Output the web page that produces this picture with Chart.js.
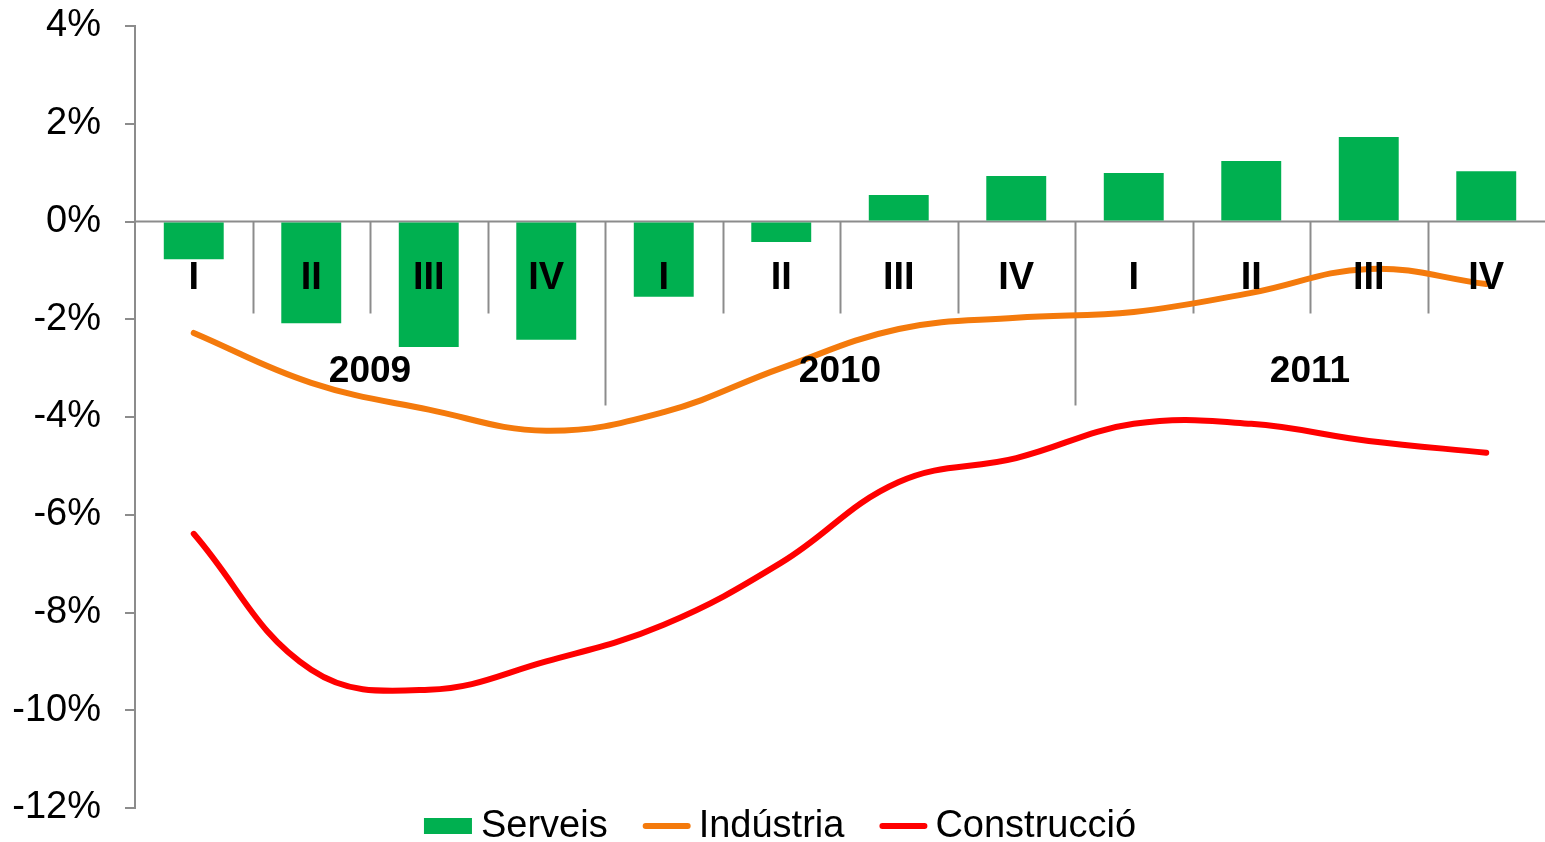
<!DOCTYPE html>
<html>
<head>
<meta charset="utf-8">
<script src="https://cdn.jsdelivr.net/npm/chart.js@4"></script>
<style>
  html, body { margin: 0; padding: 0; background: #fff; }
  #wrap { width: 1545px; height: 842px; }
</style>
</head>
<body>
<div id="wrap"><canvas id="chart"></canvas></div>
<script>
// Quarters and years on the x axis
const quarters = ['I', 'II', 'III', 'IV', 'I', 'II', 'III', 'IV', 'I', 'II', 'III', 'IV'];
const years = ['2009', '2010', '2011'];

// Series (% change)
const serveis = [-0.77, -2.08, -2.57, -2.42, -1.54, -0.42, 0.54, 0.93, 0.99, 1.24, 1.73, 1.03];
const industria = [-2.28, -3.3, -3.85, -4.28, -3.9, -3.0, -2.2, -1.97, -1.85, -1.46, -0.97, -1.28];
const construccio = [-6.39, -9.17, -9.58, -9.0, -8.25, -6.98, -5.33, -4.84, -4.14, -4.14, -4.49, -4.73];

const colors = {
    green: '#00B050',
    orange: '#F47A0C',
    red: '#FF0000',
    axis: '#8C8C8C',
    text: '#000000'
};

const FONT = '"Liberation Sans", Arial, sans-serif';

// Draws the zero axis, category separators, quarter/year labels and legend
const axisPlugin = {
    id: 'quarterAxis',
    beforeDatasetsDraw(chart) {
        const ctx = chart.ctx;
        const x = chart.scales.x;
        const y = chart.scales.y;
        const y0 = y.getPixelForValue(0);
        const step = x.getPixelForValue(1) - x.getPixelForValue(0);

        ctx.save();
        ctx.strokeStyle = colors.axis;
        ctx.lineWidth = 2;
        ctx.beginPath();
        ctx.moveTo(chart.chartArea.left, y0);
        ctx.lineTo(chart.chartArea.right, y0);
        ctx.stroke();

        for (let i = 1; i < quarters.length; i++) {
            const px = Math.round(x.getPixelForValue(i) - step / 2) + 0.5;
            const long = i % 4 === 0;
            ctx.beginPath();
            ctx.moveTo(px, y0);
            ctx.lineTo(px, y0 + (long ? 184 : 92));
            ctx.stroke();
        }
        ctx.restore();
    },
    afterDatasetsDraw(chart) {
        const ctx = chart.ctx;
        const x = chart.scales.x;
        const y = chart.scales.y;
        const y0 = y.getPixelForValue(0);

        ctx.save();
        ctx.fillStyle = colors.text;
        ctx.textAlign = 'center';
        ctx.textBaseline = 'middle';
        ctx.font = 'bold 38px ' + FONT;
        quarters.forEach((q, i) => {
            ctx.fillText(q, x.getPixelForValue(i), y0 + 57);
        });
        ctx.font = 'bold 37px ' + FONT;
        years.forEach((yr, j) => {
            const mid = (x.getPixelForValue(j * 4) + x.getPixelForValue(j * 4 + 3)) / 2;
            ctx.fillText(yr, mid, y0 + 150);
        });
        ctx.restore();
    },
    afterDraw(chart) {
        const ctx = chart.ctx;
        const items = chart.data.datasets.map(ds => ({
            label: ds.label,
            color: ds.type === 'line' ? ds.borderColor : ds.backgroundColor,
            isLine: ds.type === 'line'
        }));
        ctx.save();
        ctx.font = '38px ' + FONT;
        ctx.textBaseline = 'middle';
        const markerW = 50, gap = 7, spacing = 34;
        let total = 0;
        items.forEach((it, i) => {
            it.w = ctx.measureText(it.label).width;
            total += markerW + gap + it.w + (i < items.length - 1 ? spacing : 0);
        });
        let cx = 780 - total / 2;
        const cy = 826;
        items.forEach(it => {
            if (it.isLine) {
                ctx.strokeStyle = it.color;
                ctx.lineWidth = 6;
                ctx.lineCap = 'round';
                ctx.beginPath();
                ctx.moveTo(cx + 4, cy);
                ctx.lineTo(cx + markerW - 4, cy);
                ctx.stroke();
            } else {
                ctx.fillStyle = it.color;
                ctx.fillRect(cx, cy - 8, markerW - 2, 16);
            }
            ctx.fillStyle = colors.text;
            ctx.fillText(it.label, cx + markerW + gap, cy + 1);
            cx += markerW + gap + it.w + spacing;
        });
        ctx.restore();
    }
};

const ctx = document.getElementById('chart').getContext('2d');
new Chart(ctx, {
    type: 'bar',
    data: {
        labels: quarters,
        datasets: [
            {
                type: 'bar',
                label: 'Serveis',
                data: serveis,
                backgroundColor: colors.green,
                categoryPercentage: 0.51,
                barPercentage: 1.0,
                order: 3
            },
            {
                type: 'line',
                label: 'Indústria',
                data: industria,
                borderColor: colors.orange,
                backgroundColor: colors.orange,
                borderWidth: 6,
                borderCapStyle: 'round',
                tension: 0.4,
                pointRadius: 0,
                order: 2
            },
            {
                type: 'line',
                label: 'Construcció',
                data: construccio,
                borderColor: colors.red,
                backgroundColor: colors.red,
                borderWidth: 6,
                borderCapStyle: 'round',
                tension: 0.4,
                pointRadius: 0,
                order: 1
            }
        ]
    },
    options: {
        responsive: true,
        maintainAspectRatio: false,
        animation: false,
        layout: {
            padding: { top: 26, bottom: 34, left: 0, right: 0 }
        },
        plugins: {
            legend: { display: false },
            tooltip: { enabled: false }
        },
        scales: {
            x: {
                display: false,
                offset: true
            },
            y: {
                min: -12,
                max: 4,
                afterFit(scale) {
                    scale.width = 135;
                    scale.paddingTop = 0;
                    scale.paddingBottom = 0;
                },
                grid: {
                    drawOnChartArea: false,
                    drawTicks: true,
                    tickLength: 10,
                    color: colors.axis,
                    lineWidth: 2
                },
                border: {
                    color: colors.axis,
                    width: 2
                },
                ticks: {
                    stepSize: 2,
                    color: colors.text,
                    padding: 24,
                    font: { family: FONT, size: 38 },
                    callback: value => value + '%'
                }
            }
        }
    },
    plugins: [axisPlugin]
});
</script>
</body>
</html>
